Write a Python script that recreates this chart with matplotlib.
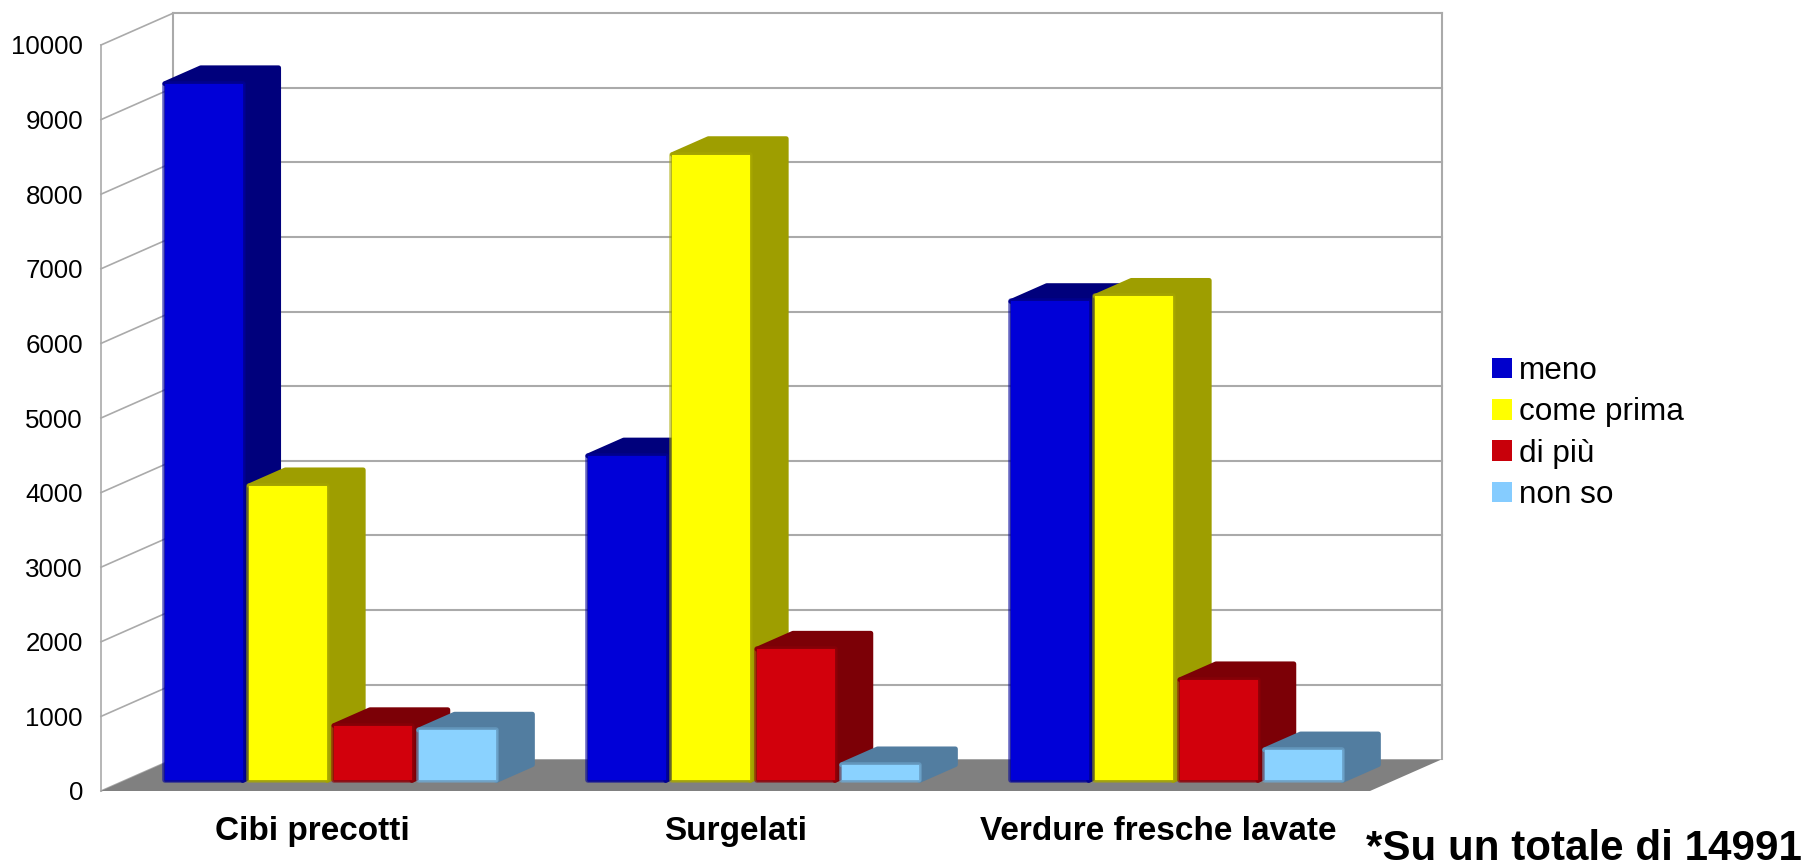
import matplotlib
matplotlib.use("Agg")
import matplotlib.pyplot as plt
import matplotlib.patheffects as pe
from matplotlib.patches import Patch, Polygon

plt.rcParams["font.family"] = ["Liberation Sans", "DejaVu Sans"]

categories = ["Cibi precotti", "Surgelati", "Verdure fresche lavate"]
series = ["meno", "come prima", "di più", "non so"]
meno = [9340, 4350, 6420]
come_prima = [3950, 8390, 6490]
di_piu = [735, 1760, 1350]
non_so = [675, 210, 410]
values = [meno, come_prima, di_piu, non_so]
yticks = list(range(0, 11000, 1000))

front_colors = ["#0000d8", "#ffff00", "#d2000c", "#8ad2ff"]
edge_colors = ["#00009a", "#a8a800", "#8e0008", "#6fa8d0"]
side_colors = ["#00007c", "#9e9e00", "#7c0006", "#527da0"]
legend_colors = ["#0000cc", "#ffff00", "#c8000a", "#85ccff"]
grid_color = "#aaaaaa"

# oblique depth of the box, in data units
depth_x = 0.170
depth_y = 425
bar_near = 0.27
bar_depth = 0.5
bar_lift = 27  # bars stand a little higher on the floor than bar_near gives
bar_step = 0.2
bar_width = 0.184

fig = plt.figure(figsize=(18.05, 8.64), dpi=100)
ax = fig.add_axes([101 / 1805, 73 / 864, 1269 / 1805, 746 / 864])
ax.set_xlim(0, len(categories))
ax.set_ylim(0, 10000)
ax.patch.set_visible(False)
for spine in ax.spines.values():
    spine.set_visible(False)

# walls and grid
xmax = len(categories)
for v in yticks:
    if v > 0:
        ax.plot([depth_x, xmax + depth_x], [v + depth_y, v + depth_y],
                color=grid_color, lw=1.5, clip_on=False, zorder=1)
    ax.plot([0, depth_x], [v, v + depth_y], color=grid_color, lw=1.2,
            clip_on=False, zorder=1)
ax.plot([0, 0], [0, 10000], color=grid_color, lw=1.2, clip_on=False, zorder=1)
for x in [depth_x, xmax + depth_x]:
    ax.plot([x, x], [depth_y, 10000 + depth_y], color=grid_color, lw=1.5,
            clip_on=False, zorder=1)

# floor
ax.add_patch(Polygon([(0, 0), (xmax, 0), (xmax + depth_x, depth_y),
                      (depth_x, depth_y)], closed=True, facecolor="#808080",
                     edgecolor="none", clip_on=False, zorder=2))

# bars, left to right so each one covers the side of the previous one
z = 3
for c in range(len(categories)):
    for s in range(len(series)):
        x0 = c + 0.1 + s * bar_step + bar_near * depth_x + 0.005
        x1 = x0 + bar_width
        base = bar_near * depth_y + bar_lift
        top = base + values[s][c]
        dx = bar_depth * depth_x
        dy = bar_depth * depth_y
        ax.add_patch(Polygon([(x0, top), (x0 + dx, top + dy),
                              (x1 + dx, top + dy), (x1 + dx, base + dy),
                              (x1, base), (x1, top)], closed=True,
                             facecolor=side_colors[s],
                             edgecolor=side_colors[s], lw=3.5,
                             joinstyle="round", clip_on=False, zorder=z))
        bar = ax.bar(x0, values[s][c], width=bar_width, bottom=base,
                     align="edge", color=front_colors[s], clip_on=False,
                     zorder=z + 1)[0]
        bar.set_joinstyle("round")
        bar.set_path_effects([
            pe.Stroke(linewidth=4, foreground=edge_colors[s], alpha=0.6),
            pe.Stroke(linewidth=2, foreground=edge_colors[s], alpha=0.7),
            pe.Normal()])
        z += 2

ax.set_yticks(yticks)
ax.set_xticks([i + 0.5 for i in range(len(categories))])
ax.set_xticklabels(categories, fontsize=24, fontweight="bold")
ax.tick_params(axis="y", length=0, pad=13, labelsize=18.6, labelcolor="black")
ax.tick_params(axis="x", length=0, pad=18)

handles = [Patch(facecolor=col, edgecolor="none", label=name)
           for col, name in zip(legend_colors, series)]
fig.legend(handles=handles, loc="upper left",
           bbox_to_anchor=(1492 / 1805, 1 - 356 / 864), frameon=False,
           fontsize=22.7, handlelength=0.63, handleheight=0.63,
           handletextpad=0.22, labelspacing=0.36, borderpad=0, borderaxespad=0)

fig.text(1366 / 1805, 1 - 849 / 864, "*Su un totale di 14991", fontsize=30.3,
         fontweight="bold", va="center", ha="left")

fig.savefig("out.png", dpi=100)
